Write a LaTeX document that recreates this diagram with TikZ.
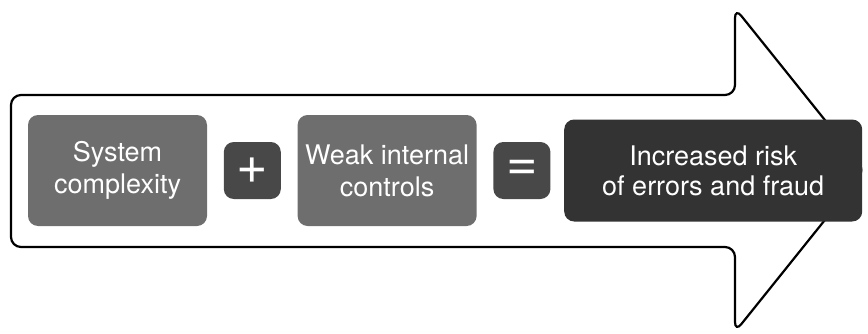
\documentclass[tikz,border=0pt]{standalone}
\usepackage{fontspec}
\setmainfont{TeX Gyre Heros}
\usetikzlibrary{positioning}
\definecolor{termgray}{HTML}{6E6E6E}
\definecolor{opgray}{HTML}{484848}
\definecolor{resultgray}{HTML}{333333}

\begin{document}
\begin{tikzpicture}[x=0.5pt, y=0.5pt, node distance=8pt]
    \tikzset{
        termbox/.style = {rectangle, rounded corners=5pt, inner sep=0pt, minimum width=89.5pt, minimum height=55.5pt, align=center, text=white, fill=termgray, font=\fontsize{13.5}{16}\selectfont},
        opbox/.style = {rectangle, rounded corners=5pt, inner sep=0pt, minimum size=28.5pt, text=white, fill=opgray, font=\fontsize{27}{27}\selectfont},
        resultbox/.style = {rectangle, rounded corners=5pt, inner sep=0pt, minimum width=149pt, minimum height=51pt, align=center, text=white, fill=resultgray, font=\fontsize{13.5}{15}\selectfont}
    }
    \useasboundingbox (0,0) rectangle (868,333);

    % outline of the big arrow behind the boxes
    \draw [line width=1.1pt, rounded corners=5pt] (11,238) -- (735,238) -- (735,325) -- (865,163) -- (735,1) -- (735,86) -- (11,86) -- cycle;

    \node (complexity) [termbox] at (117.5,162.5) {System\\complexity};
    \node (plus) [opbox, right=of complexity] {+};
    \node (controls) [termbox, right=of plus] {Weak internal\\controls};
    \node (equals) [opbox, right=of controls] {=};
    \node (risk) [resultbox, right=6.5pt of equals] {Increased risk\\of errors and fraud};

\end{tikzpicture}
\end{document}
